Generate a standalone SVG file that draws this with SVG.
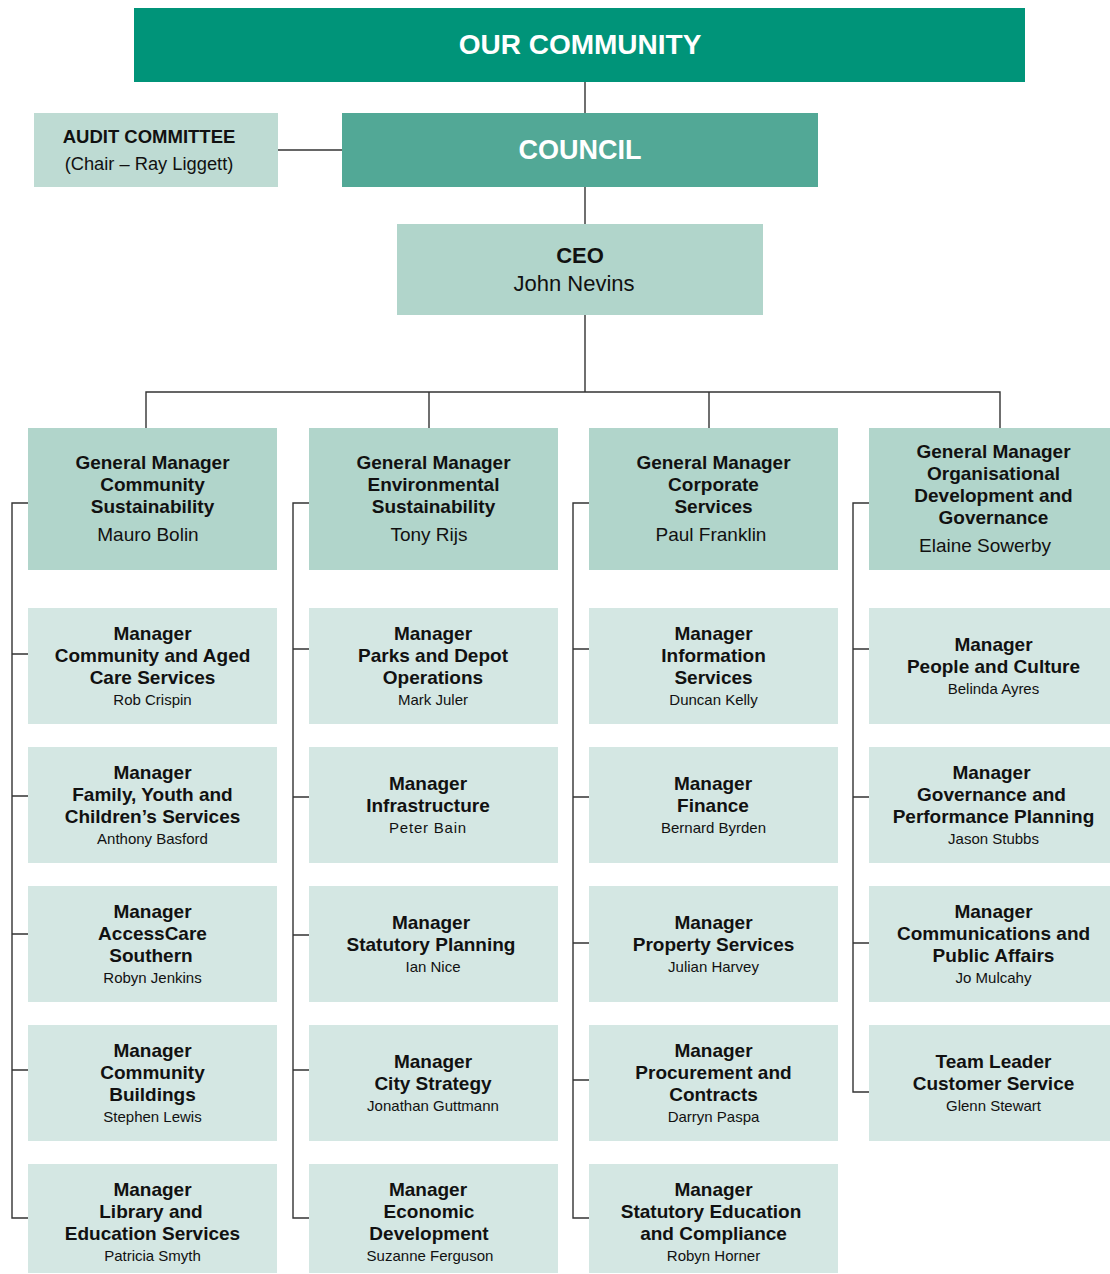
<svg xmlns="http://www.w3.org/2000/svg" width="1110" height="1274" viewBox="0 0 1110 1274">
  <style>
    text { font-family: "Liberation Sans", Arial, sans-serif; text-anchor: middle; fill: #111; }
    .t { font-weight: bold; font-size: 19px; }
    .n19 { font-size: 19px; }
    .n { font-size: 15px; }
    .lead { fill: #009479; }
    .council { fill: #52a896; }
    .gm { fill: #b1d5cb; }
    .audit { fill: #bedbd3; }
    .mgr { fill: #d4e7e3; }
    .big { font-weight: bold; fill: #fff; }
    .link { stroke: #333; stroke-width: 1.4; fill: none; }
  </style>

  <!-- connectors -->
  <g id="connectors" class="link">
    <path d="M585 82 V113 M585 187 V224 M585 315 V392"/>
    <path d="M278 150 H342"/>
    <path d="M146 428 V392 H1000 V428 M429 392 V428 M709 392 V428"/>
    <!-- column 1 -->
    <path d="M28 503 H12 V1218 H28 M12 654 H28 M12 796 H28 M12 934 H28 M12 1070 H28"/>
    <!-- column 2 -->
    <path d="M309 503 H293 V1218 H309 M293 649 H309 M293 797 H309 M293 935 H309 M293 1070 H309"/>
    <!-- column 3 -->
    <path d="M589 503 H573 V1218 H589 M573 649 H589 M573 797 H589 M573 943 H589 M573 1080 H589"/>
    <!-- column 4 -->
    <path d="M869 503 H853 V1092 H869 M853 649 H869 M853 797 H869 M853 943 H869"/>
  </g>

  <g id="our-community">
    <rect class="lead" x="134" y="8" width="891" height="74"/>
    <text class="big" x="580" y="54" font-size="28">OUR COMMUNITY</text>
  </g>

  <g id="audit-committee">
    <rect class="audit" x="34" y="113" width="244" height="74"/>
    <text x="149" y="143" font-size="18.5" font-weight="bold">AUDIT COMMITTEE</text>
    <text x="149" y="170" font-size="18.3">(Chair – Ray Liggett)</text>
  </g>

  <g id="council">
    <rect class="council" x="342" y="113" width="476" height="74"/>
    <text class="big" x="580" y="159" font-size="27">COUNCIL</text>
  </g>

  <g id="ceo">
    <rect class="gm" x="397" y="224" width="366" height="91"/>
    <text x="580" y="263" font-size="22" font-weight="bold">CEO</text>
    <text x="574" y="291" font-size="22">John Nevins</text>
  </g>

  <!-- general managers -->
  <g id="gm-community">
    <rect class="gm" x="28" y="428" width="249" height="142"/>
    <text class="t" x="152.5" y="469">General Manager</text>
    <text class="t" x="152.5" y="491">Community</text>
    <text class="t" x="152.5" y="513">Sustainability</text>
    <text class="n19" x="148" y="541">Mauro Bolin</text>
  </g>
  <g id="gm-environmental">
    <rect class="gm" x="309" y="428" width="249" height="142"/>
    <text class="t" x="433.5" y="469">General Manager</text>
    <text class="t" x="433.5" y="491">Environmental</text>
    <text class="t" x="433.5" y="513">Sustainability</text>
    <text class="n19" x="429" y="541">Tony Rijs</text>
  </g>
  <g id="gm-corporate">
    <rect class="gm" x="589" y="428" width="249" height="142"/>
    <text class="t" x="713.5" y="469">General Manager</text>
    <text class="t" x="713.5" y="491">Corporate</text>
    <text class="t" x="713.5" y="513">Services</text>
    <text class="n19" x="711" y="541">Paul Franklin</text>
  </g>
  <g id="gm-organisational">
    <rect class="gm" x="869" y="428" width="249" height="142"/>
    <text class="t" x="993.5" y="458">General Manager</text>
    <text class="t" x="993.5" y="480">Organisational</text>
    <text class="t" x="993.5" y="502">Development and</text>
    <text class="t" x="993.5" y="524">Governance</text>
    <text class="n19" x="985" y="552">Elaine Sowerby</text>
  </g>

  <!-- column 1 -->
  <g id="mgr-community-aged-care">
    <rect class="mgr" x="28" y="608" width="249" height="116"/>
    <text class="t" x="152.5" y="640">Manager</text>
    <text class="t" x="152.5" y="662">Community and Aged</text>
    <text class="t" x="152.5" y="684">Care Services</text>
    <text class="n" x="152.5" y="705">Rob Crispin</text>
  </g>
  <g id="mgr-family-youth">
    <rect class="mgr" x="28" y="747" width="249" height="116"/>
    <text class="t" x="152.5" y="779">Manager</text>
    <text class="t" x="152.5" y="801">Family, Youth and</text>
    <text class="t" x="152.5" y="823">Children’s Services</text>
    <text class="n" x="152.5" y="844">Anthony Basford</text>
  </g>
  <g id="mgr-accesscare">
    <rect class="mgr" x="28" y="886" width="249" height="116"/>
    <text class="t" x="152.5" y="918">Manager</text>
    <text class="t" x="152.5" y="940">AccessCare</text>
    <text class="t" x="151" y="962">Southern</text>
    <text class="n" x="152.5" y="983">Robyn Jenkins</text>
  </g>
  <g id="mgr-community-buildings">
    <rect class="mgr" x="28" y="1025" width="249" height="116"/>
    <text class="t" x="152.5" y="1057">Manager</text>
    <text class="t" x="152.5" y="1079">Community</text>
    <text class="t" x="152.5" y="1101">Buildings</text>
    <text class="n" x="152.5" y="1122">Stephen Lewis</text>
  </g>
  <g id="mgr-library">
    <rect class="mgr" x="28" y="1164" width="249" height="109"/>
    <text class="t" x="152.5" y="1196">Manager</text>
    <text class="t" x="151" y="1218">Library and</text>
    <text class="t" x="152.5" y="1240">Education Services</text>
    <text class="n" x="152.5" y="1261">Patricia Smyth</text>
  </g>

  <!-- column 2 -->
  <g id="mgr-parks-depot">
    <rect class="mgr" x="309" y="608" width="249" height="116"/>
    <text class="t" x="433" y="640">Manager</text>
    <text class="t" x="433" y="662">Parks and Depot</text>
    <text class="t" x="433" y="684">Operations</text>
    <text class="n" x="433" y="705">Mark Juler</text>
  </g>
  <g id="mgr-infrastructure">
    <rect class="mgr" x="309" y="747" width="249" height="116"/>
    <text class="t" x="428" y="790">Manager</text>
    <text class="t" x="428" y="812">Infrastructure</text>
    <text class="n" x="428" y="833" letter-spacing="0.8">Peter Bain</text>
  </g>
  <g id="mgr-statutory-planning">
    <rect class="mgr" x="309" y="886" width="249" height="116"/>
    <text class="t" x="431" y="929">Manager</text>
    <text class="t" x="431" y="951">Statutory Planning</text>
    <text class="n" x="433" y="972">Ian Nice</text>
  </g>
  <g id="mgr-city-strategy">
    <rect class="mgr" x="309" y="1025" width="249" height="116"/>
    <text class="t" x="433" y="1068">Manager</text>
    <text class="t" x="433" y="1090">City Strategy</text>
    <text class="n" x="433" y="1111">Jonathan Guttmann</text>
  </g>
  <g id="mgr-economic-development">
    <rect class="mgr" x="309" y="1164" width="249" height="109"/>
    <text class="t" x="428" y="1196">Manager</text>
    <text class="t" x="429" y="1218">Economic</text>
    <text class="t" x="429" y="1240">Development</text>
    <text class="n" x="430" y="1261">Suzanne Ferguson</text>
  </g>

  <!-- column 3 -->
  <g id="mgr-information-services">
    <rect class="mgr" x="589" y="608" width="249" height="116"/>
    <text class="t" x="713.5" y="640">Manager</text>
    <text class="t" x="713.5" y="662">Information</text>
    <text class="t" x="713.5" y="684">Services</text>
    <text class="n" x="713.5" y="705">Duncan Kelly</text>
  </g>
  <g id="mgr-finance">
    <rect class="mgr" x="589" y="747" width="249" height="116"/>
    <text class="t" x="713" y="790">Manager</text>
    <text class="t" x="713" y="812">Finance</text>
    <text class="n" x="713.5" y="833">Bernard Byrden</text>
  </g>
  <g id="mgr-property-services">
    <rect class="mgr" x="589" y="886" width="249" height="116"/>
    <text class="t" x="713.5" y="929">Manager</text>
    <text class="t" x="713.5" y="951">Property Services</text>
    <text class="n" x="713.5" y="972">Julian Harvey</text>
  </g>
  <g id="mgr-procurement">
    <rect class="mgr" x="589" y="1025" width="249" height="116"/>
    <text class="t" x="713.5" y="1057">Manager</text>
    <text class="t" x="713.5" y="1079">Procurement and</text>
    <text class="t" x="713.5" y="1101">Contracts</text>
    <text class="n" x="713.5" y="1122">Darryn Paspa</text>
  </g>
  <g id="mgr-statutory-education">
    <rect class="mgr" x="589" y="1164" width="249" height="109"/>
    <text class="t" x="713.5" y="1196">Manager</text>
    <text class="t" x="711" y="1218">Statutory Education</text>
    <text class="t" x="713.5" y="1240">and Compliance</text>
    <text class="n" x="713.5" y="1261">Robyn Horner</text>
  </g>

  <!-- column 4 -->
  <g id="mgr-people-culture">
    <rect class="mgr" x="869" y="608" width="249" height="116"/>
    <text class="t" x="993.5" y="651">Manager</text>
    <text class="t" x="993.5" y="673">People and Culture</text>
    <text class="n" x="993.5" y="694">Belinda Ayres</text>
  </g>
  <g id="mgr-governance-performance">
    <rect class="mgr" x="869" y="747" width="249" height="116"/>
    <text class="t" x="991.5" y="779">Manager</text>
    <text class="t" x="991.5" y="801">Governance and</text>
    <text class="t" x="993.5" y="823">Performance Planning</text>
    <text class="n" x="993.5" y="844">Jason Stubbs</text>
  </g>
  <g id="mgr-communications">
    <rect class="mgr" x="869" y="886" width="249" height="116"/>
    <text class="t" x="993.5" y="918">Manager</text>
    <text class="t" x="993.5" y="940">Communications and</text>
    <text class="t" x="993.5" y="962">Public Affairs</text>
    <text class="n" x="993.5" y="983">Jo Mulcahy</text>
  </g>
  <g id="tl-customer-service">
    <rect class="mgr" x="869" y="1025" width="249" height="116"/>
    <text class="t" x="993.5" y="1068">Team Leader</text>
    <text class="t" x="993.5" y="1090">Customer Service</text>
    <text class="n" x="993.5" y="1111">Glenn Stewart</text>
  </g>
</svg>
